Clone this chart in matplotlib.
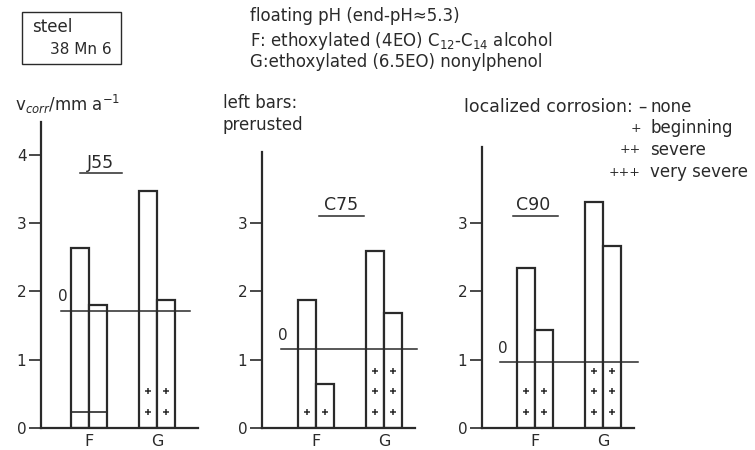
import matplotlib.pyplot as plt
from matplotlib.patches import Rectangle

# datos (velocidad de corrosion en mm/a)
grados = ["J55", "C75", "C90"]
inhibidores = ["F", "G"]
oxidado_previo = [[2.64, 3.47], [1.88, 2.59], [2.34, 3.31]]   # barras izquierdas
sin_oxidar = [[1.80, 1.88], [0.65, 1.68], [1.43, 2.66]]       # barras derechas
linea_cero = [1.71, 1.15, 0.96]                                # sin inhibidor ("0")
picaduras_oxidado = [[0, 2], [1, 3], [2, 3]]                   # 0 ninguna .. 3 muy severa
picaduras_sin_oxidar = [[0, 2], [1, 3], [2, 3]]
ticks_y = [[0, 1, 2, 3, 4], [0, 1, 2, 3], [0, 1, 2, 3]]

W, H = 755, 450
TINTA = "#2a2a2a"
TAM = 12
plt.rcParams['font.family'] = ['DejaVu Sans']
plt.rcParams['text.color'] = TINTA


def fx(x):
    return x / W


def fy(y):
    return 1 - y / H


# posicion de cada panel en pixeles: eje y, fin del eje x, tope del eje y, centro de F
paneles = [
    dict(eje=41, fin=198, tope=122, centro=89, cero=(-0.41, 1.49),
         etiqueta=(0.17, 3.88), subrayado=(-0.13, 0.48, 3.74)),
    dict(eje=262, fin=415, tope=152, centro=316, cero=(-0.52, 1.49),
         etiqueta=(0.37, 3.26), subrayado=(0.04, 0.70, 3.10)),
    dict(eje=482, fin=634, tope=147, centro=535, cero=(-0.51, 1.51),
         etiqueta=(-0.03, 3.26), subrayado=(-0.33, 0.34, 3.10)),
]
BASE = 428          # pixel del valor 0
ESC_X = 68.0        # pixeles por unidad en x
ESC_Y = 68.3        # pixeles por unidad en y
ANCHO = 0.26
FILAS_MAS = [0.24, 0.54, 0.84]

fig = plt.figure(figsize=(W / 100, H / 100), dpi=100)


def marcar_picadura(ax, xc, nivel):
    if nivel == 0:
        ax.plot([xc - ANCHO / 2, xc + ANCHO / 2], [0.23, 0.23], color=TINTA, lw=1.2)
        return
    for fila in FILAS_MAS[:nivel]:
        ax.plot(xc, fila, marker='+', ms=5, mew=1.1, color=TINTA)


for i, p in enumerate(paneles):
    ax = fig.add_axes([fx(p['eje']), fy(BASE), fx(p['fin'] - p['eje']),
                       (BASE - p['tope']) / H])
    ax.set_xlim((p['eje'] - p['centro']) / ESC_X, (p['fin'] - p['centro']) / ESC_X)
    ax.set_ylim(0, (BASE - p['tope']) / ESC_Y)
    ax.patch.set_alpha(0)

    for j, nombre in enumerate(inhibidores):
        xi = j - ANCHO / 2
        xd = j + ANCHO / 2
        ax.bar([xi, xd], [oxidado_previo[i][j], sin_oxidar[i][j]], width=ANCHO,
               facecolor='white', edgecolor=TINTA, linewidth=1.6, zorder=2)
        marcar_picadura(ax, xi, picaduras_oxidado[i][j])
        marcar_picadura(ax, xd, picaduras_sin_oxidar[i][j])

    # linea sin inhibidor
    x0, x1 = p['cero']
    ax.plot([x0, x1], [linea_cero[i]] * 2, color=TINTA, lw=1.1, zorder=3, clip_on=False)
    ax.text(x0 - 0.04, linea_cero[i] + 0.1, "0", fontsize=11, ha='left', va='bottom')

    # nombre del acero
    ex, ey = p['etiqueta']
    ax.text(ex, ey, grados[i], fontsize=12.5, ha='center', va='center')
    u0, u1, uy = p['subrayado']
    ax.plot([u0, u1], [uy, uy], color=TINTA, lw=1.1, clip_on=False)

    ax.set_xticks(range(len(inhibidores)))
    ax.set_xticklabels(inhibidores, fontsize=11.5)
    ax.tick_params(axis='x', length=0, pad=4, colors=TINTA)
    ax.set_yticks(ticks_y[i])
    ax.tick_params(axis='y', direction='out', length=8.5, width=1.2, pad=2,
                   labelsize=11, colors=TINTA)
    for lado in ['top', 'right']:
        ax.spines[lado].set_visible(False)
    for lado in ['left', 'bottom']:
        ax.spines[lado].set_linewidth(1.6)
        ax.spines[lado].set_color(TINTA)

# cabecera
fig.patches.append(Rectangle((fx(22), fy(64)), fx(99), 52 / H, transform=fig.transFigure,
                             fill=False, edgecolor=TINTA, linewidth=1.0))
fig.text(fx(32), fy(27), "steel", fontsize=TAM, va='center')
fig.text(fx(50), fy(50), "38 Mn 6", fontsize=11, va='center')
fig.text(fx(250), fy(16), "floating pH (end-pH\u22485.3)", fontsize=TAM, va='center')
fig.text(fx(250), fy(41), "F: ethoxylated (4EO) C$_{12}$-C$_{14}$ alcohol", fontsize=TAM,
         va='center')
fig.text(fx(250), fy(62), "G:ethoxylated (6.5EO) nonylphenol", fontsize=TAM, va='center')

fig.text(fx(15), fy(104), "v$_{corr}$/mm a$^{-1}$", fontsize=TAM, va='center')
fig.text(fx(223), fy(103), "left bars:", fontsize=TAM, va='center')
fig.text(fx(223), fy(125), "prerusted", fontsize=TAM, va='center')

# leyenda de corrosion localizada
fig.text(fx(633), fy(107), "localized corrosion:", fontsize=12.5, ha='right', va='center')
fig.text(fx(642), fy(107), "\u2013", fontsize=TAM, ha='center', va='center')
fig.text(fx(650), fy(107), "none", fontsize=TAM, va='center')
leyenda = [("+", "beginning"), ("++", "severe"), ("+++", "very severe")]
for k, (signo, texto) in enumerate(leyenda):
    y = 128 + 22 * k
    fig.text(fx(641), fy(y), signo, fontsize=9, ha='right', va='center')
    fig.text(fx(650), fy(y), texto, fontsize=TAM, va='center')

fig.savefig("out.png", dpi=100)
